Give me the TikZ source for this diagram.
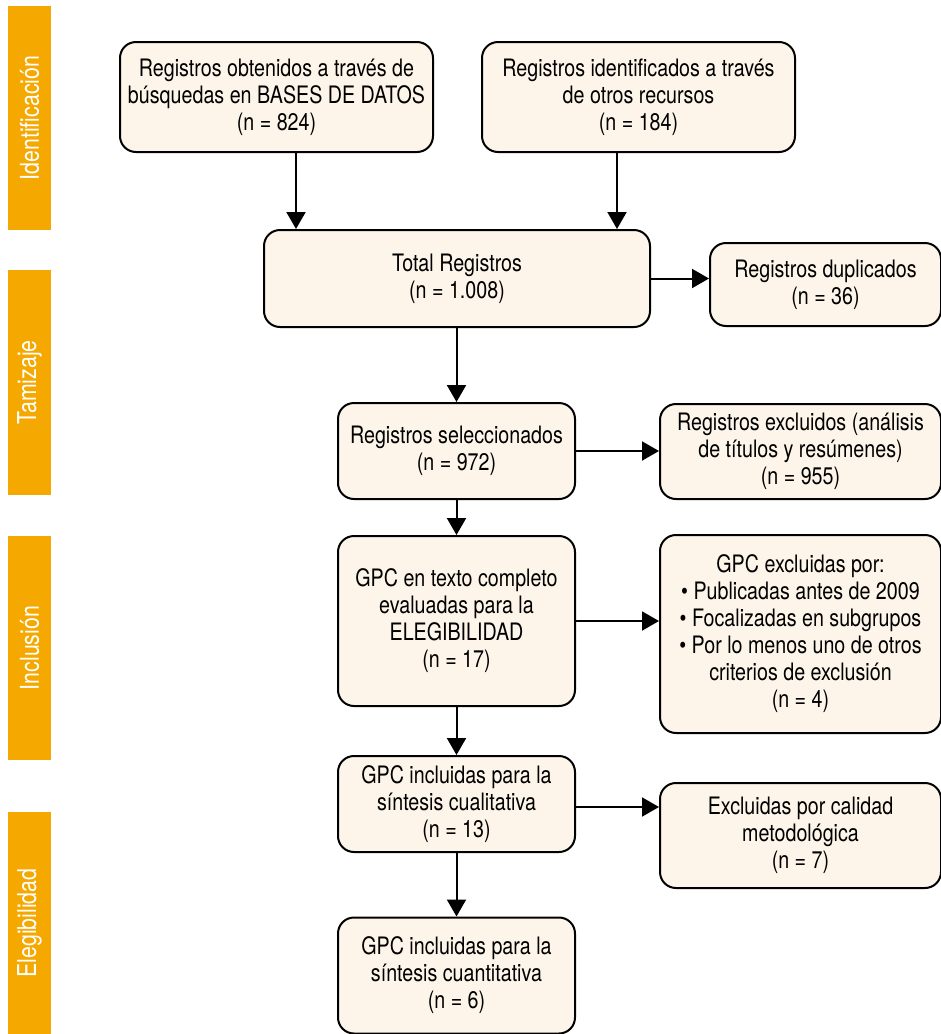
\documentclass[tikz,border=0pt]{standalone}
\usepackage{fontspec}
\setmainfont{TeX Gyre Heros}[FakeStretch=0.82]
\usetikzlibrary{arrows.meta}
\definecolor{barorange}{RGB}{245,168,0}
\definecolor{boxfill}{RGB}{253,245,233}

\begin{document}
\begin{tikzpicture}[x=0.5pt, y=-0.5pt, font=\fontsize{12}{13.5}\selectfont]
\tikzstyle{box}=[draw=black, line width=1pt, rounded corners=8pt, fill=boxfill, align=center, inner sep=2pt]
\tikzstyle{stage}=[fill=barorange, text=white, minimum width=21.5pt, rotate=90, inner sep=0pt, font=\fontsize{13}{15}\selectfont]
\tikzstyle{arr}=[line width=1pt, -{Triangle[length=8.5pt, width=9.5pt]}]

	\useasboundingbox (0,0) rectangle (941,1034);

	%stages
	\node[stage, minimum width=112pt, minimum height=21.5pt] (ident) at (29.5,118) {Identificación};
	\node[stage, minimum width=112.5pt, minimum height=21.5pt] (tamiz) at (29.5,382.5) {Tamizaje};
	\node[stage, minimum width=112pt, minimum height=21.5pt] (incl) at (29.5,648) {Inclusión};
	\node[stage, minimum width=111pt, minimum height=21.5pt] (elig) at (29.5,923) {Elegibilidad};

	%boxes
	\node[box, minimum width=156.5pt, minimum height=55pt] (bases) at (276.5,97) {Registros obtenidos a través de\\búsquedas en BASES DE DATOS\\(n = 824)};
	\node[box, minimum width=156.5pt, minimum height=55pt] (otros) at (638.5,97) {Registros identificados a través\\de otros recursos\\(n = 184)};
	\node[box, minimum width=193pt, minimum height=48.5pt] (total) at (457,278.5) {Total Registros\\(n = 1.008)};
	\node[box, minimum width=115.5pt, minimum height=41.5pt] (dup) at (825.5,284.5) {Registros duplicados\\(n = 36)};
	\node[box, minimum width=118.5pt, minimum height=48pt] (sel) at (456.5,451) {Registros seleccionados\\(n = 972)};
	\node[box, minimum width=140.5pt, minimum height=47.5pt] (excl) at (800.5,451.5) {Registros excluidos (análisis\\de títulos y resúmenes)\\(n = 955)};
	\node[box, minimum width=118.5pt, minimum height=85pt] (texto) at (456.5,621) {GPC en texto completo\\evaluadas para la\\ELEGIBILIDAD\\(n = 17)};
	\node[box, minimum width=140.5pt, minimum height=99pt] (gpcexcl) at (800.5,634) {GPC excluidas por:\\• Publicadas antes de 2009\\• Focalizadas en subgrupos\\• Por lo menos uno de otros\\criterios de exclusión\\(n = 4)};
	\node[box, minimum width=118.5pt, minimum height=48pt] (cual) at (456.5,804) {GPC incluidas para la\\síntesis cualitativa\\(n = 13)};
	\node[box, minimum width=140.5pt, minimum height=52.5pt] (calidad) at (800.5,835.5) {Excluidas por calidad\\metodológica\\(n = 7)};
	\node[box, minimum width=118.5pt, minimum height=58pt] (cuant) at (456.5,975.5) {GPC incluidas para la\\síntesis cuantitativa\\(n = 6)};

	%paths
	\draw[arr] ([xshift=9.75pt]bases.south) -- ([xshift=9.75pt]bases.south |- total.north);
	\draw[arr] ([xshift=-10.75pt]otros.south) -- ([xshift=-10.75pt]otros.south |- total.north);
	\draw[arr] (total.east) -- (total.east -| dup.west);
	\draw[arr] (total.south) -- (total.south -| sel.north) -- (sel.north);
	\draw[arr] (sel.east) -- (sel.east -| excl.west);
	\draw[arr] (sel.south) -- (texto.north);
	\draw[arr] (texto.east) -- (texto.east -| gpcexcl.west);
	\draw[arr] (texto.south) -- (cual.north);
	\draw[arr] ([yshift=-1.5pt]cual.east) -- ([yshift=-1.5pt]cual.east -| calidad.west);
	\draw[arr] (cual.south) -- (cuant.north);

\end{tikzpicture}
\end{document}
